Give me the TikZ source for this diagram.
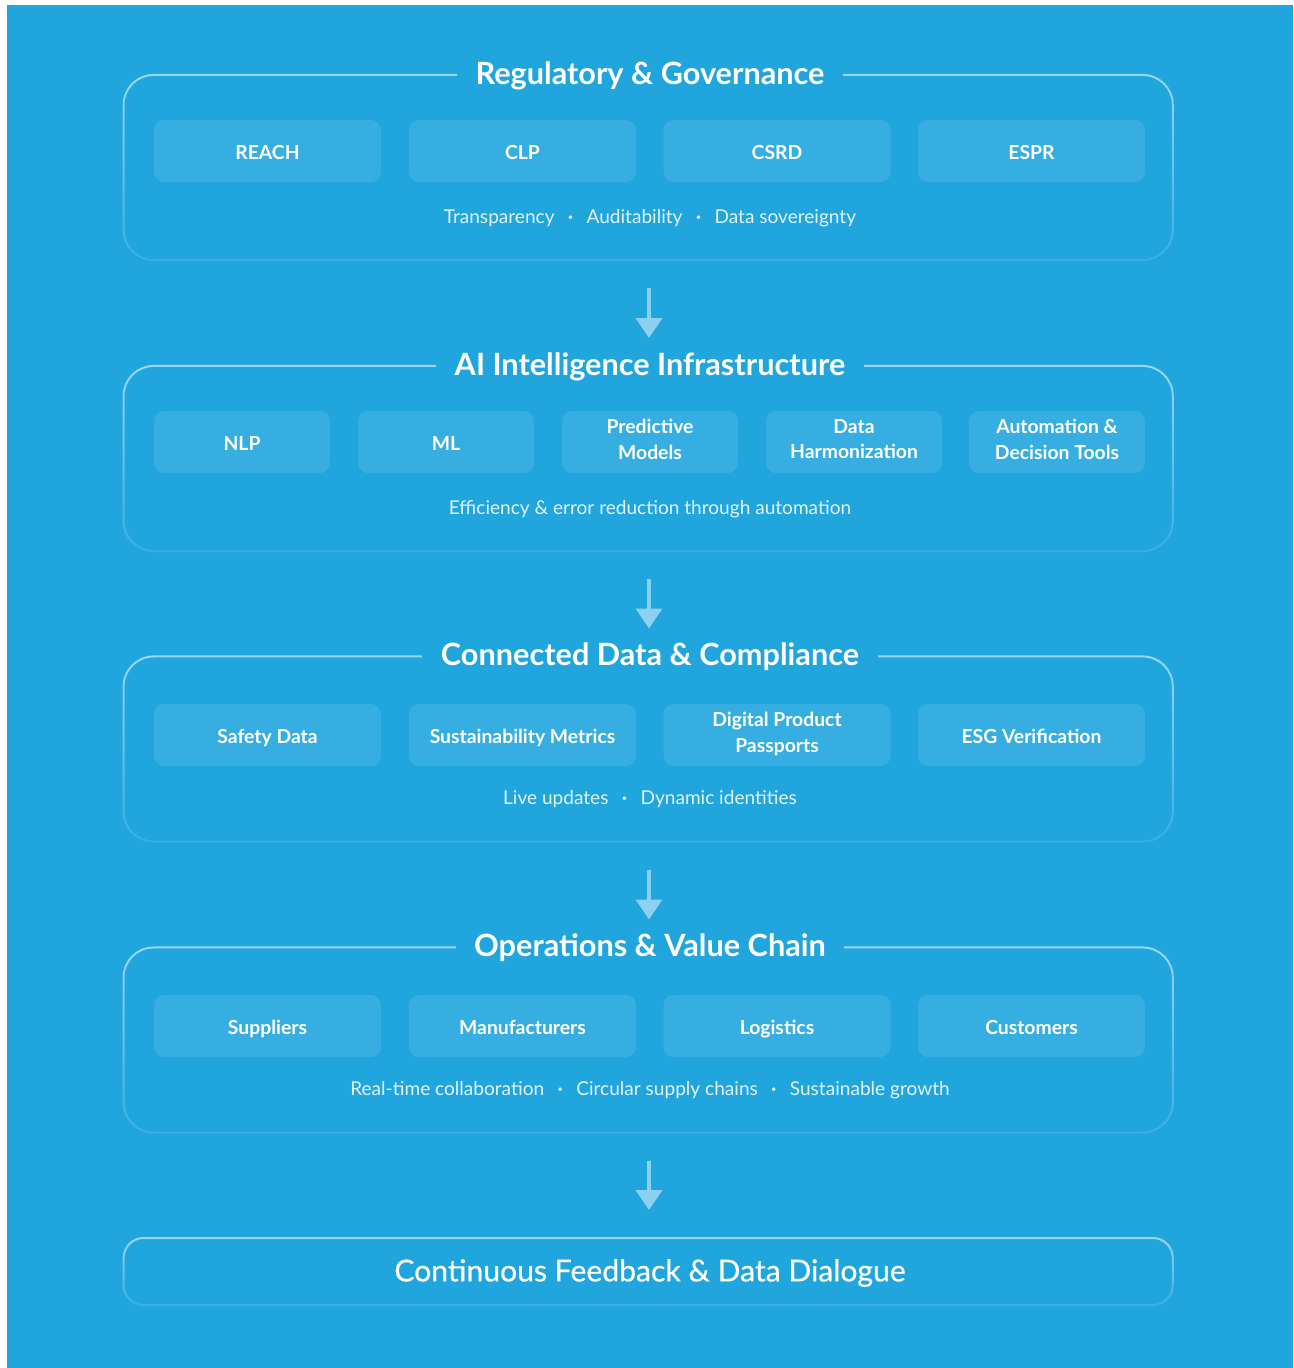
\documentclass[tikz,border=0pt]{standalone}
\usepackage{fontspec}
\setmainfont{Lato}
\newfontfamily\medfont[FakeBold=0.6]{Lato}
\usetikzlibrary{arrows.meta,fadings}

\definecolor{bgblue}{HTML}{20A5DD}
\definecolor{tileblue}{HTML}{37AEE2}
\definecolor{rimblue}{HTML}{9AD6F2}
\definecolor{arrowblue}{HTML}{8DD0F0}
\definecolor{notewhite}{HTML}{E2F2FB}
\tikzfading[name=rimfade, top color=transparent!0, bottom color=transparent!80]
\newcommand{\notesep}{\hspace{10pt}\raisebox{2pt}{\scriptsize\textbullet}\hspace{10pt}}
\newcommand{\tilestrut}{\rule[-4pt]{0pt}{20.6pt}}

\begin{document}
\begin{tikzpicture}[x=0.75pt,y=-0.75pt,
  layerframe/.style={draw=rimblue, line width=1.5pt, rounded corners=22.5pt, outer sep=0pt,
    minimum width=787.5pt, path fading=rimfade},
  layertitle/.style={fill=bgblue, text=white, font=\bfseries\fontsize{23}{27}\selectfont,
    inner xsep=14pt, inner ysep=3pt},
  tile/.style={fill=tileblue, rounded corners=7.5pt, text=white, align=center,
    font=\bfseries\fontsize{14.5}{19}\selectfont, minimum height=46.5pt, inner sep=0pt,
    execute at begin node=\tilestrut, execute at end node=\tilestrut},
  note/.style={text=notewhite, font=\fontsize{14.3}{17}\selectfont},
  flow/.style={arrowblue, line width=3pt, -{Triangle[width=19.5pt,length=15pt]}}]
% page
\fill[white] (0,0) rectangle (1293,1368);
\fill[bgblue] (7,5) rectangle (1293,1368);
\useasboundingbox (0,0) rectangle (1293,1368);

% layer 1
\node[layerframe, minimum height=138.75pt] (reg) at (649,167.5) {};
\node[layertitle] (regT) at (650,76) {Regulatory \& Governance};
\foreach \name/\x/\txt in {reach/267.5/REACH, clp/522.5/CLP, csrd/777/CSRD, espr/1031.5/ESPR}
  \node[tile, minimum width=170.25pt] (\name) at (\x,151) {\txt};
\node[note] (regN) at (650,218) {Transparency\notesep Auditability\notesep Data sovereignty};

% layer 2
\node[layerframe, minimum height=138.75pt] (ai) at (649,458.5) {};
\node[layertitle] (aiT) at (650,367) {AI Intelligence Infrastructure};
\foreach \name/\x/\txt in {nlp/242/NLP, ml/446/ML, pred/650/Predictive\\Models,
    harm/854/Data\\Harmonization, auto/1057/Automation \&\\Decision Tools}
  \node[tile, minimum width=132pt] (\name) at (\x,442) {\txt};
\node[note] (aiN) at (650,509) {Efficiency \& error reduction through automation};

% layer 3
\node[layerframe, minimum height=138.75pt] (data) at (649,749) {};
\node[layertitle] (dataT) at (650,657) {Connected Data \& Compliance};
\foreach \name/\x/\txt in {safety/267.5/Safety Data, metrics/522.5/Sustainability Metrics,
    dpp/777/Digital Product\\Passports, esg/1031.5/ESG Verification}
  \node[tile, minimum width=170.25pt] (\name) at (\x,735) {\txt};
\node[note] (dataN) at (650,799) {Live updates\notesep Dynamic identities};

% layer 4
\node[layerframe, minimum height=138.75pt] (ops) at (649,1040) {};
\node[layertitle] (opsT) at (650,948) {Operations \& Value Chain};
\foreach \name/\x/\txt in {supp/267.5/Suppliers, manu/522.5/Manufacturers,
    logi/777/Logistics, cust/1031.5/Customers}
  \node[tile, minimum width=170.25pt] (\name) at (\x,1026) {\txt};
\node[note] (opsN) at (650,1090) {Real-time collaboration\notesep Circular supply chains\notesep Sustainable growth};

% feedback
\node[layerframe, minimum height=50.25pt, rounded corners=15pt] (loop) at (649,1271.5) {};
\node[text=white, font=\medfont\fontsize{22.6}{27}\selectfont] (loopT) at (650,1273) {Continuous Feedback \& Data Dialogue};

% arrows
\draw[flow] ([yshift=-21pt]reg.south) -- ([yshift=21pt]ai.north);
\draw[flow] ([yshift=-21pt]ai.south) -- ([yshift=21pt]data.north);
\draw[flow] ([yshift=-21pt]data.south) -- ([yshift=21pt]ops.north);
\draw[flow] ([yshift=-21pt]ops.south) -- ([yshift=21pt]loop.north);
\end{tikzpicture}
\end{document}
